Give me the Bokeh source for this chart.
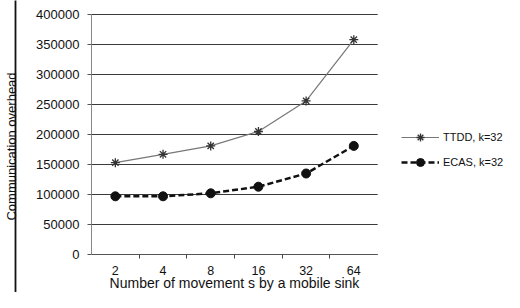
from bokeh.plotting import figure
from bokeh.models import (ColumnDataSource, FixedTicker, BasicTickFormatter, Legend, LegendItem,
                          Range1d, LinearAxis)
from bokeh.embed import file_html
from bokeh.resources import INLINE

categories = ["2", "4", "8", "16", "32", "64"]
ttdd = [153000, 167000, 181000, 205000, 256000, 358000]
ecas = [97000, 97000, 102000, 113000, 135000, 181000]
y_ticks = [0, 50000, 100000, 150000, 200000, 250000, 300000, 350000, 400000]

n = len(categories)
xs = [i + 0.5 for i in range(n)]
src = ColumnDataSource(dict(x=xs, ttdd=ttdd, ecas=ecas))
grid_src = ColumnDataSource(dict(x0=[0] * len(y_ticks), x1=[n] * len(y_ticks), y=y_ticks))

FONT = "Liberation Sans"
W, H = 504, 292
LEFT = 84
PLOT_W, TOP, PLOT_H = 291, 14, 240
Y_MIN, Y_MAX = y_ticks[0], y_ticks[-1]
# frame spans the whole figure right of the axes; the data area sits inside it
X_END = n * (W - LEFT) / PLOT_W
Y_START = Y_MIN - (Y_MAX - Y_MIN) * (H - TOP - PLOT_H) / PLOT_H
Y_END = Y_MAX + (Y_MAX - Y_MIN) * TOP / PLOT_H

p = figure(width=W, height=H, output_backend="svg", toolbar_location=None,
           x_range=Range1d(0, X_END), y_range=Range1d(Y_START, Y_END),
           min_border_left=LEFT, min_border_right=0, min_border_top=0, min_border_bottom=0)
p.outline_line_color = None
p.background_fill_color = "white"
p.border_fill_color = "white"
p.xgrid.grid_line_color = None
p.ygrid.grid_line_color = None

# horizontal grid lines over the data area
p.segment(x0="x0", x1="x1", y0="y", y1="y", source=grid_src, line_color="#3a3a3a", line_width=1.2)

# y axis (tick labels)
p.yaxis.ticker = FixedTicker(ticks=y_ticks)
p.yaxis.bounds = (Y_MIN, Y_MAX)
p.yaxis.formatter = BasicTickFormatter(use_scientific=False)
p.yaxis.axis_line_color = "#888888"
p.yaxis.major_tick_line_color = "#555555"
p.yaxis.major_tick_out = 4
p.yaxis.major_tick_in = 0
p.yaxis.minor_tick_line_color = None
p.yaxis.major_label_text_font = FONT
p.yaxis.major_label_text_font_size = "13px"
p.yaxis.major_label_text_color = "#111111"
p.yaxis.major_label_standoff = 8
p.yaxis.axis_label = " "
p.yaxis.axis_label_text_font_size = "10px"
p.yaxis.axis_label_standoff = 4

# outer axis: chart border line + axis title
p.extra_y_ranges = {"border": Range1d(0, 1)}
outer = LinearAxis(y_range_name="border", ticker=FixedTicker(ticks=[]),
                   axis_line_color="#111111", axis_line_width=1.8,
                   major_tick_line_color=None, minor_tick_line_color=None,
                   major_tick_out=0, major_tick_in=0, minor_tick_out=0, minor_tick_in=0,
                   major_label_standoff=0, major_label_text_font_size="0px",
                   axis_label="Communication overhead", axis_label_standoff=-3,
                   axis_label_text_font=FONT, axis_label_text_font_size="13px",
                   axis_label_text_font_style="normal", axis_label_text_color="#111111")
p.add_layout(outer, "left")

# x axis, drawn at y = 0 inside the frame
p.xaxis.fixed_location = Y_MIN
p.xaxis.bounds = (0, n)
p.xaxis.ticker = FixedTicker(ticks=xs, minor_ticks=[float(i) for i in range(1, n)])
p.xaxis.major_label_overrides = {x: c for x, c in zip(xs, categories)}
p.xaxis.major_tick_line_color = None
p.xaxis.major_tick_out = 4
p.xaxis.major_tick_in = 0
p.xaxis.minor_tick_line_color = "#444444"
p.xaxis.minor_tick_out = 4
p.xaxis.minor_tick_in = 0
p.xaxis.axis_line_color = "#555555"
p.xaxis.major_label_text_font = FONT
p.xaxis.major_label_text_font_size = "12.5px"
p.xaxis.major_label_text_color = "#111111"
p.xaxis.major_label_standoff = 7
p.xaxis.axis_label = "Number of movement s by a mobile sink"
p.xaxis.axis_label_text_font = FONT
p.xaxis.axis_label_text_font_size = "14px"
p.xaxis.axis_label_text_font_style = "normal"
p.xaxis.axis_label_text_color = "#111111"
p.xaxis.axis_label_standoff = -3

r1 = p.line("x", "ttdd", source=src, line_color="#777777", line_width=1.2)
r1m = p.scatter("x", "ttdd", source=src, marker="asterisk", size=9, line_color="#333333", line_width=1.3)
r2 = p.line("x", "ecas", source=src, line_color="#111111", line_width=2.5, line_dash="6 3")
r2m = p.scatter("x", "ecas", source=src, marker="circle", size=9, fill_color="#111111", line_color="#111111")

legend = Legend(items=[LegendItem(label="TTDD, k=32", renderers=[r1, r1m]),
                       LegendItem(label="ECAS, k=32", renderers=[r2, r2m])],
                location=(310, 120), glyph_width=38, glyph_height=20, label_standoff=4, spacing=5,
                label_text_font=FONT, label_text_font_size="11px", label_text_color="#111111",
                border_line_color=None, background_fill_alpha=0, padding=0, margin=0)
p.add_layout(legend)

open("out.html", "w").write(file_html(p, INLINE))
